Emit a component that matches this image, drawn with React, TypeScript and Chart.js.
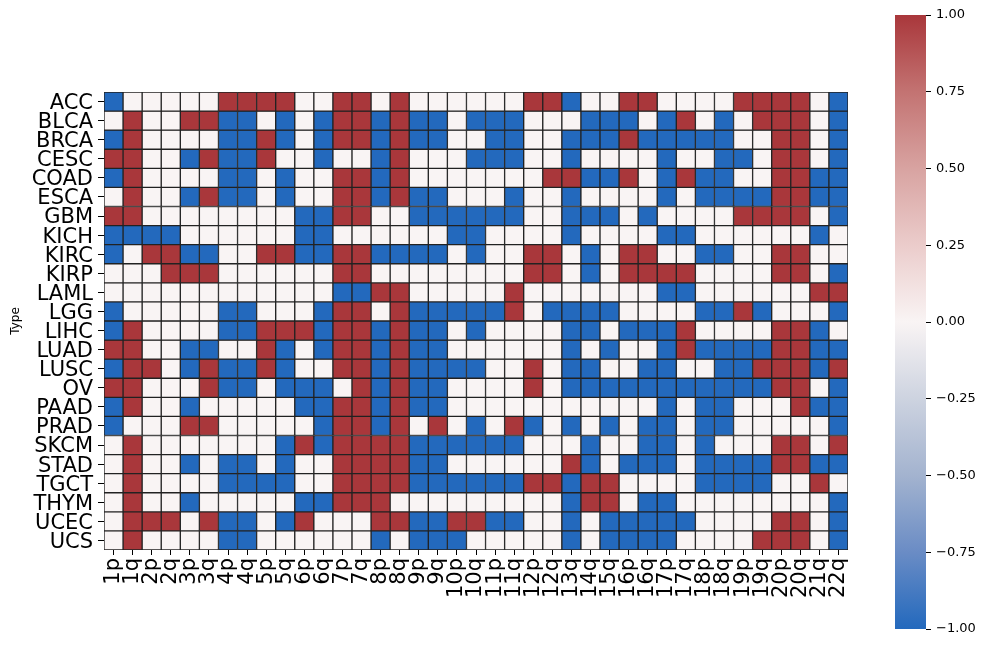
import React, { useEffect, useRef } from "react";
import { Chart, registerables } from "chart.js";

Chart.register(...registerables);

const ROWS = ["ACC","BLCA","BRCA","CESC","COAD","ESCA","GBM","KICH","KIRC","KIRP","LAML","LGG","LIHC","LUAD","LUSC","OV","PAAD","PRAD","SKCM","STAD","TGCT","THYM","UCEC","UCS"];
const COLS = ["1p","1q","2p","2q","3p","3q","4p","4q","5p","5q","6p","6q","7p","7q","8p","8q","9p","9q","10p","10q","11p","11q","12p","12q","13q","14q","15q","16p","16q","17p","17q","18p","18q","19p","19q","20p","20q","21q","22q"];

const ACC  = [-1,0,0,0,0,0,1,1,1,1,0,0,1,1,0,1,0,0,0,0,0,0,1,1,-1,0,0,1,1,0,0,0,0,1,1,1,1,0,-1];
const BLCA = [0,1,0,0,1,1,-1,-1,0,-1,0,-1,1,1,-1,1,-1,-1,0,-1,-1,-1,0,0,0,-1,-1,-1,0,-1,1,0,-1,0,1,1,1,0,-1];
const BRCA = [-1,1,0,0,0,0,-1,-1,1,-1,0,-1,1,1,-1,1,-1,-1,0,0,-1,-1,0,0,-1,-1,-1,1,-1,-1,-1,-1,-1,0,0,1,1,0,-1];
const CESC = [1,1,0,0,-1,1,-1,-1,1,0,0,-1,0,0,-1,1,0,0,0,-1,-1,-1,0,0,-1,0,0,0,0,-1,0,0,-1,-1,0,1,1,0,-1];
const COAD = [-1,1,0,0,0,0,-1,-1,0,-1,0,0,1,1,-1,1,0,0,0,0,0,0,0,1,1,-1,-1,1,0,-1,1,-1,-1,0,0,1,1,-1,-1];
const ESCA = [0,1,0,0,-1,1,-1,-1,0,-1,0,0,1,1,-1,1,-1,-1,0,0,0,-1,0,0,-1,0,0,0,0,-1,0,-1,-1,-1,-1,1,1,-1,-1];
const GBM  = [1,1,0,0,0,0,0,0,0,0,-1,-1,1,1,0,0,-1,-1,-1,-1,-1,-1,0,0,-1,-1,-1,0,-1,0,0,0,0,1,1,1,1,0,-1];
const KICH = [-1,-1,-1,-1,0,0,0,0,0,0,-1,-1,0,0,0,0,0,0,-1,-1,0,0,0,0,-1,0,0,0,0,-1,-1,0,0,0,0,0,0,-1,0];
const KIRC = [-1,0,1,1,-1,-1,0,0,1,1,-1,-1,1,1,-1,-1,-1,-1,0,-1,0,0,1,1,0,-1,0,1,1,0,0,-1,-1,0,0,1,1,0,0];
const KIRP = [0,0,0,1,1,1,0,0,0,0,0,0,1,1,0,0,0,0,0,0,0,0,1,1,0,-1,0,1,1,1,1,0,0,0,0,1,1,0,-1];
const LAML = [0,0,0,0,0,0,0,0,0,0,0,0,-1,-1,1,1,0,0,0,0,0,1,0,0,0,0,0,0,0,-1,-1,0,0,0,0,0,0,1,1];
const LGG  = [-1,0,0,0,0,0,-1,-1,0,0,0,-1,1,1,0,1,-1,-1,-1,-1,-1,1,0,-1,-1,-1,-1,0,0,0,0,-1,-1,1,-1,0,0,0,-1];
const LIHC = [-1,1,0,0,0,0,-1,-1,1,1,1,-1,1,1,-1,1,-1,-1,0,-1,0,0,0,0,-1,-1,0,-1,-1,-1,1,0,0,0,0,1,1,-1,0];
const LUAD = [1,1,0,0,-1,-1,0,0,1,-1,0,-1,1,1,-1,1,-1,-1,0,0,0,0,0,0,-1,0,-1,0,0,-1,1,-1,-1,-1,-1,1,1,-1,-1];
const LUSC = [-1,1,1,0,-1,1,-1,-1,1,-1,0,0,1,1,-1,1,-1,-1,-1,-1,0,0,1,0,-1,-1,0,0,-1,-1,0,0,-1,-1,1,1,1,-1,1];
const OV   = [1,1,0,0,0,1,-1,-1,0,-1,-1,-1,0,1,-1,1,-1,-1,0,0,0,0,1,0,-1,-1,-1,-1,-1,-1,-1,-1,-1,-1,-1,1,1,0,-1];
const PAAD = [-1,1,0,0,-1,0,0,0,0,0,-1,-1,1,1,-1,1,-1,-1,0,0,0,0,0,0,0,0,0,0,0,-1,0,-1,-1,0,0,0,1,-1,-1];
const PRAD = [-1,0,0,0,1,1,0,0,0,0,0,-1,1,1,-1,1,0,1,0,-1,0,1,-1,0,-1,0,-1,0,-1,-1,0,-1,-1,0,0,0,0,0,-1];
const SKCM = [0,1,0,0,0,0,0,0,0,-1,1,-1,1,1,1,1,-1,-1,-1,-1,-1,-1,0,0,0,-1,0,0,-1,-1,0,-1,0,0,0,1,1,0,1];
const STAD = [0,1,0,0,-1,0,-1,-1,0,-1,0,0,1,1,1,1,-1,-1,0,0,0,0,0,0,1,-1,0,-1,-1,-1,0,-1,-1,-1,-1,1,1,-1,-1];
const TGCT = [0,1,0,0,0,0,-1,-1,-1,-1,0,0,1,1,1,1,-1,-1,-1,-1,-1,-1,1,1,-1,1,1,0,0,0,0,-1,-1,-1,-1,0,0,1,0];
const THYM = [0,1,0,0,-1,0,0,0,0,0,-1,-1,1,1,1,0,0,0,0,0,0,0,0,0,-1,1,1,0,-1,-1,0,0,0,0,0,0,0,0,-1];
const UCEC = [0,1,1,1,0,1,-1,-1,0,-1,1,0,0,0,1,1,-1,-1,1,1,-1,-1,0,0,-1,0,-1,-1,-1,-1,-1,0,0,0,0,1,1,0,-1];
const UCS  = [0,1,0,0,0,0,-1,-1,0,0,0,0,0,0,-1,0,-1,-1,-1,0,0,0,0,0,-1,0,-1,-1,-1,-1,0,0,0,0,1,1,1,0,-1];

const VALUES = [ACC,BLCA,BRCA,CESC,COAD,ESCA,GBM,KICH,KIRC,KIRP,LAML,LGG,LIHC,LUAD,LUSC,OV,PAAD,PRAD,SKCM,STAD,TGCT,THYM,UCEC,UCS];

const CBAR_MIN = -1;
const CBAR_MAX = 1;
const CBAR_STEP = 0.25;

const FONT = "'DejaVu Sans', sans-serif";

function cellColor(v: number): string {
  if (v > 0) return "#a9373b";
  if (v < 0) return "#2369bd";
  return "#f9f4f4";
}

const GRAD_STOPS: [number, string][] = [
  [0, "#2369bd"],
  [0.125, "#6a8cc5"],
  [0.25, "#a3b3cf"],
  [0.375, "#cdd3e0"],
  [0.5, "#f9f4f4"],
  [0.625, "#ebcccb"],
  [0.75, "#d8a3a1"],
  [0.875, "#c37372"],
  [1, "#a9373b"],
];

export default function App() {
  const heatRef = useRef<HTMLCanvasElement | null>(null);
  const cbarRef = useRef<HTMLCanvasElement | null>(null);

  useEffect(() => {
    Chart.defaults.font.family = FONT;
    Chart.defaults.color = "#000";

    const datasets = VALUES.map((row, r) => ({
      label: ROWS[r],
      data: COLS.map(() => [r, r + 1] as [number, number]),
      backgroundColor: row.map(cellColor),
      borderColor: "#222222",
      borderWidth: 1,
      borderSkipped: false as const,
      barPercentage: 1,
      categoryPercentage: 1,
      grouped: false,
    }));

    const heat = new Chart(heatRef.current as HTMLCanvasElement, {
      type: "bar",
      data: { labels: COLS, datasets: datasets as any },
      options: {
        animation: false,
        responsive: false,
        maintainAspectRatio: false,
        layout: { padding: { left: 0, top: 92, right: 22, bottom: 0 } },
        plugins: { legend: { display: false }, tooltip: { enabled: false } },
        scales: {
          x: {
            type: "category",
            offset: true,
            grid: { display: true, drawOnChartArea: false, offset: false, tickLength: 5, color: "#000", lineWidth: 1 },
            border: { display: false },
            ticks: { autoSkip: false, minRotation: 90, maxRotation: 90, padding: 3, font: { size: 21 }, color: "#000" },
            afterFit: (s: any) => { s.height = 99; },
          },
          y: {
            type: "linear",
            min: 0,
            max: ROWS.length,
            reverse: true,
            grid: { display: true, drawOnChartArea: false, tickLength: 6, color: "#000", lineWidth: 1 },
            border: { display: false },
            afterBuildTicks: (s: any) => { s.ticks = ROWS.map((_, i) => ({ value: i + 0.5 })); },
            ticks: {
              autoSkip: false,
              padding: 5,
              labelOffset: 2,
              font: { size: 21 },
              color: "#000",
              callback: (_v: any, i: number) => ROWS[i],
            },
            title: { display: true, text: "Type", font: { size: 12 }, color: "#000", padding: { top: 9, bottom: 0 } },
            afterFit: (s: any) => { s.width = 104; },
          },
        },
      },
    });

    const cbar = new Chart(cbarRef.current as HTMLCanvasElement, {
      type: "bar",
      data: {
        labels: [""],
        datasets: [{
          data: [[CBAR_MIN, CBAR_MAX]] as any,
          backgroundColor: (ctx: any) => {
            const chart = ctx.chart;
            const area = chart.chartArea;
            if (!area) return "#ccc";
            const g = chart.ctx.createLinearGradient(0, area.bottom, 0, area.top);
            GRAD_STOPS.forEach(([p, c]) => g.addColorStop(p, c));
            return g;
          },
          borderWidth: 0,
          barPercentage: 1,
          categoryPercentage: 1,
        }],
      },
      options: {
        animation: false,
        responsive: false,
        maintainAspectRatio: false,
        layout: { padding: { left: 35, top: 15, right: 0, bottom: 20 } },
        plugins: { legend: { display: false }, tooltip: { enabled: false } },
        scales: {
          x: { display: false },
          y: {
            type: "linear",
            position: "right",
            min: CBAR_MIN,
            max: CBAR_MAX,
            grid: { display: true, drawOnChartArea: false, tickLength: 5, color: "#000", lineWidth: 1 },
            border: { display: false },
            ticks: {
              stepSize: CBAR_STEP,
              padding: 5,
              font: { size: 13 },
              color: "#000",
              callback: (v: any) => {
                const n = Number(v);
                const s = Math.abs(n).toFixed(2);
                return n < -1e-9 ? "\u2212" + s : s;
              },
            },
            afterFit: (s: any) => { s.width = 61; },
          },
        },
      },
    });

    return () => {
      heat.destroy();
      cbar.destroy();
    };
  }, []);

  return (
    <div style={{ position: "absolute", left: 0, top: 0, width: 987, height: 649, background: "#fff" }}>
      <canvas ref={heatRef} width={870} height={649} style={{ position: "absolute", left: 0, top: 0, width: 870, height: 649 }} />
      <canvas ref={cbarRef} width={127} height={649} style={{ position: "absolute", left: 860, top: 0, width: 127, height: 649 }} />
    </div>
  );
}
